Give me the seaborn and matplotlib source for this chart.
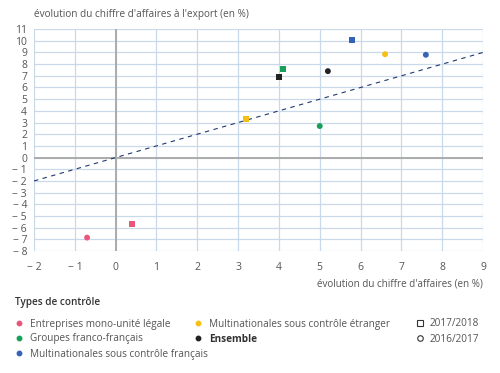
"""
Export turnover vs total turnover growth by control type
"""

import matplotlib
matplotlib.use("Agg")
import matplotlib.pyplot as plt
from matplotlib.lines import Line2D
from matplotlib.ticker import FuncFormatter, MultipleLocator
import pandas as pd
import seaborn as sns

# ─────────────────────────────────────────────
# Data
# ─────────────────────────────────────────────
types = [
    "Entreprises mono-unité légale",
    "Groupes franco-français",
    "Multinationales sous contrôle français",
    "Multinationales sous contrôle étranger",
    "Ensemble",
]
colors = ["#e8577b", "#17a05a", "#3563b5", "#f6bf13", "#222222"]
periods = ["2017/2018", "2016/2017"]

x_1718 = [0.4, 4.1, 5.8, 3.2, 4.0]
y_1718 = [-5.7, 7.55, 10.05, 3.3, 6.9]
x_1617 = [-0.7, 5.0, 7.6, 6.6, 5.2]
y_1617 = [-6.85, 2.7, 8.8, 8.85, 7.4]

diag = [-2, 9]

df = pd.DataFrame({
    "x": x_1718 + x_1617,
    "y": y_1718 + y_1617,
    "type": types * 2,
    "period": [periods[0]] * 5 + [periods[1]] * 5,
})

# ─────────────────────────────────────────────
# Figure
# ─────────────────────────────────────────────
sns.set_theme(style="white")
plt.rcParams["font.family"] = ["Open Sans", "DejaVu Sans"]

TXT = "#555555"
GRID = "#cad9ea"

fig = plt.figure(figsize=(5, 3.73), dpi=100)
ax = fig.add_axes([0.068, 0.327, 0.898, 0.595])

ax.plot(diag, diag, color="#1f3a6e", linestyle=(0, (4, 4)), linewidth=0.8, zorder=2)

sns.scatterplot(
    data=df, x="x", y="y", hue="type", style="period",
    palette=dict(zip(types, colors)), markers={"2017/2018": "s", "2016/2017": "o"},
    s=18, linewidth=0, legend=False, ax=ax, zorder=3,
)

ax.set_xlim(-2, 9)
ax.set_ylim(-8, 11)
ax.xaxis.set_major_locator(MultipleLocator(1))
ax.yaxis.set_major_locator(MultipleLocator(1))
ax.grid(True, color=GRID, linewidth=0.9)
ax.axhline(0, color="#ababab", linewidth=1.4, zorder=1)
ax.axvline(0, color="#ababab", linewidth=1.4, zorder=1)
for sp in ax.spines.values():
    sp.set_visible(False)

fmt = FuncFormatter(lambda v, _: f"\u2212 {abs(int(v))}" if v < 0 else f"{int(v)}")
ax.xaxis.set_major_formatter(fmt)
ax.yaxis.set_major_formatter(fmt)
ax.tick_params(axis="x", length=0, pad=8, labelsize=7.5, labelcolor=TXT)
ax.tick_params(axis="y", length=0, pad=5, labelsize=7.5, labelcolor=TXT)
ax.set_xlabel("")
ax.set_ylabel("")

fig.text(0.068, 0.96, "évolution du chiffre d'affaires à l'export (en %)",
         fontsize=7.2, color=TXT, ha="left", va="center")
fig.text(0.966, 0.238, "évolution du chiffre d'affaires (en %)",
         fontsize=7.1, color=TXT, ha="right", va="center")

# ─────────────────────────────────────────────
# Legend (manual layout)
# ─────────────────────────────────────────────
def fy(py):
    return 1 - py / 373

LEG_FS = 7.2

fig.text(15 / 500, fy(302), "Types de contrôle", fontsize=LEG_FS, color="#333333",
         fontweight="semibold", ha="left", va="center")

slots = [(19, 323), (19, 338), (19, 353), (198, 323), (198, 338)]
for (px, py), name, col in zip(slots, types, colors):
    fig.add_artist(Line2D([px / 500], [fy(py - 0.5)], marker="o", markersize=3.2,
                          color=col, linestyle="none", transform=fig.transFigure))
    fig.text((px + 11) / 500, fy(py + 1), name, fontsize=LEG_FS,
             color="#333333" if name == "Ensemble" else TXT,
             fontweight="bold" if name == "Ensemble" else "normal",
             ha="left", va="center")

for (py, mk, lab) in zip([323, 338], ["s", "o"], periods):
    fig.add_artist(Line2D([420 / 500], [fy(py - 0.5)], marker=mk, markersize=4,
                          markerfacecolor="white", markeredgecolor="#333333",
                          markeredgewidth=0.8, linestyle="none", transform=fig.transFigure))
    fig.text(430 / 500, fy(py + 1), lab, fontsize=LEG_FS, color=TXT, ha="left", va="center")

fig.savefig("out.png", dpi=100)
plt.close(fig)
